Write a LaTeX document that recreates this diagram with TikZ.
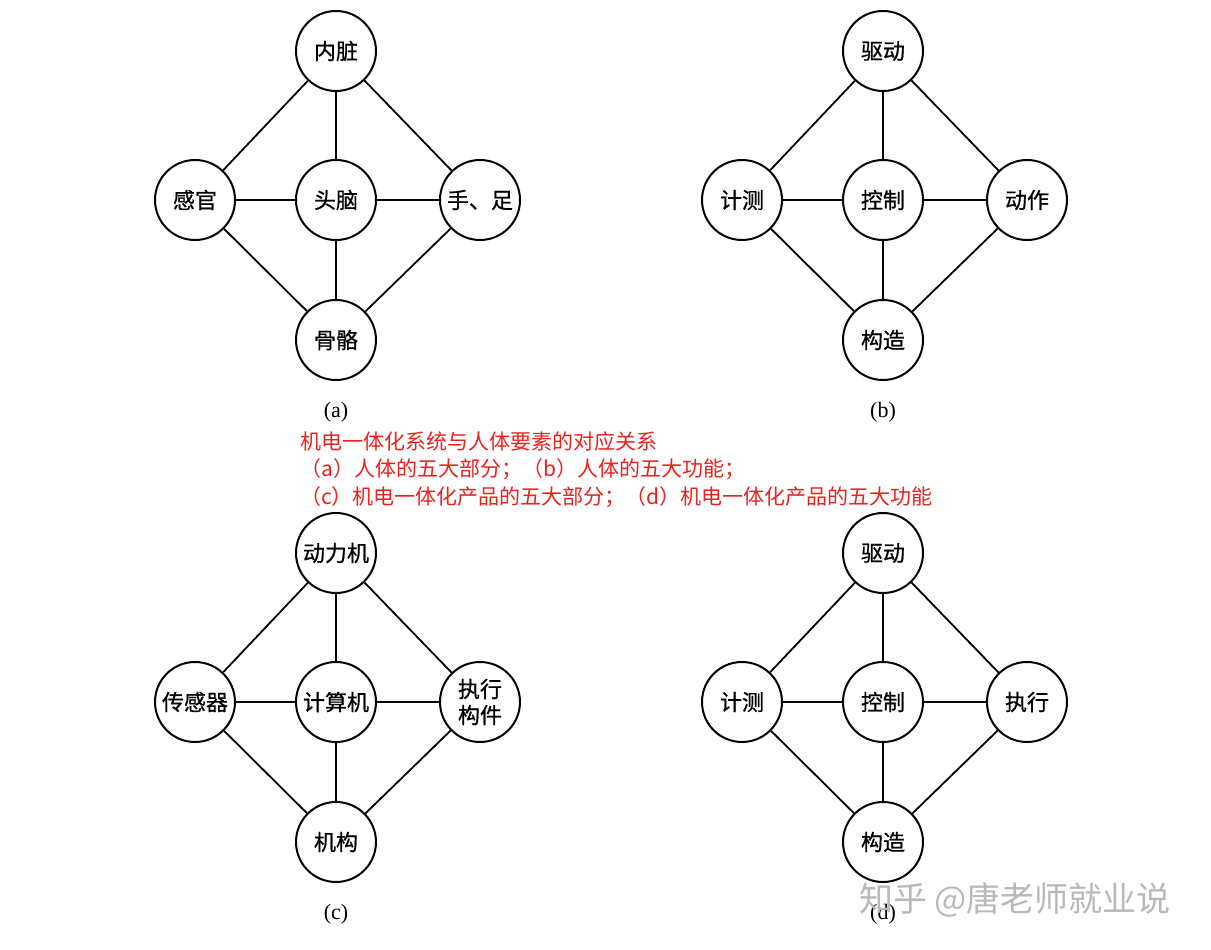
\documentclass[tikz,border=0pt]{standalone}
\usepackage{fontspec}
\setmainfont{Liberation Serif}
\newfontfamily\cjk{Noto Sans CJK SC}
\newfontfamily\cjkheavy{Noto Sans CJK SC}[FakeBold=0.8]
\usepackage{xcolor}
\usepackage{tikz}
\usetikzlibrary{positioning}
\definecolor{capred}{HTML}{E8231E}
\definecolor{wmgray}{HTML}{B9B9B9}

\begin{document}
\begin{tikzpicture}[
  x=1pt, y=-1pt,
  elem/.style={circle, draw, line width=2pt, minimum size=80pt, inner sep=0pt,
    align=center, font=\cjkheavy\fontsize{22}{26}\selectfont},
  link/.style={line width=1.8pt},
  tag/.style={font=\fontsize{22}{26}\selectfont}]
\useasboundingbox (0,0) rectangle (1211,950);

\foreach \px/\py/\lbl/\up/\lf/\md/\rt/\dn in {
  336/200/a/内脏/感官/头脑/手、足/骨骼,
  883/200/b/驱动/计测/控制/动作/构造,
  336/702/c/动力机/传感器/计算机/执行\\构件/机构,
  883/702/d/驱动/计测/控制/执行/构造}
 {
  \node[elem] (\lbl-md) at (\px, \py) {\md};
  \node[elem] (\lbl-up) at (\px, \py-149) {\up};
  \node[elem] (\lbl-dn) at (\px, \py+140) {\dn};
  \node[elem] (\lbl-lf) at (\px-141, \py) {\lf};
  \node[elem] (\lbl-rt) at (\px+144, \py) {\rt};
  \node[tag] (\lbl-cap) at (\px, \py+212) {(\lbl)};

  \draw[link] (\lbl-md)--(\lbl-up);
  \draw[link] (\lbl-md)--(\lbl-dn);
  \draw[link] (\lbl-md)--(\lbl-lf);
  \draw[link] (\lbl-md)--(\lbl-rt);
  \draw[link] (\lbl-up)--(\lbl-lf);
  \draw[link] (\lbl-up)--(\lbl-rt);
  \draw[link] (\lbl-dn)--(\lbl-lf);
  \draw[link] (\lbl-dn)--(\lbl-rt);
 }

% caption in red
\node[anchor=north west, inner sep=0pt, align=left, text=capred,
  font=\cjk\fontsize{21}{27.5}\selectfont] (note) at (300, 431)
  {机电一体化系统与人体要素的对应关系\\
   （a）人体的五大部分；（b）人体的五大功能；\\
   （c）机电一体化产品的五大部分；（d）机电一体化产品的五大功能};

% watermark
\node[text=wmgray, font=\cjk\fontsize{34}{40}\selectfont] (mark) at (1015, 900)
  {知乎 @唐老师就业说};
\end{tikzpicture}
\end{document}
